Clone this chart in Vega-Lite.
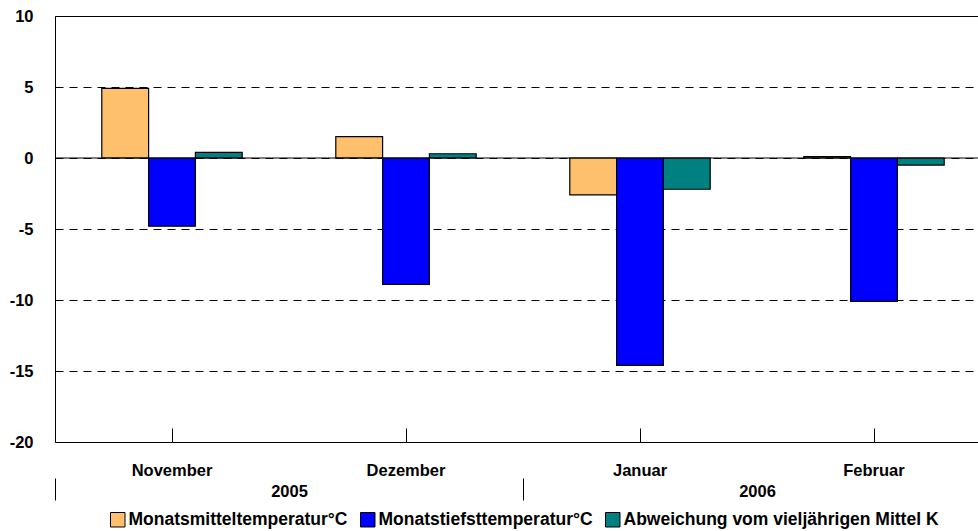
{
  "$schema": "https://vega.github.io/schema/vega-lite/v6.json",
  "width": 936,
  "height": 426,
  "autosize": "none",
  "padding": {"left": 55, "top": 16, "right": 0, "bottom": 89},
  "background": "white",
  "config": {
    "font": "Liberation Sans",
    "view": {"stroke": "black", "strokeWidth": 1},
    "axis": {"labelFont": "Liberation Sans", "labelFontWeight": "bold", "labelColor": "black", "labelFontSize": 16.5}
  },
  "layer": [
    {
      "data": {
        "values": [
          {"month": "November", "series": "Monatsmitteltemperatur°C", "value": 4.9},
          {"month": "November", "series": "Monatstiefsttemperatur°C", "value": -4.8},
          {"month": "November", "series": "Abweichung vom vieljährigen Mittel K", "value": 0.4},
          {"month": "Dezember", "series": "Monatsmitteltemperatur°C", "value": 1.5},
          {"month": "Dezember", "series": "Monatstiefsttemperatur°C", "value": -8.9},
          {"month": "Dezember", "series": "Abweichung vom vieljährigen Mittel K", "value": 0.3},
          {"month": "Januar", "series": "Monatsmitteltemperatur°C", "value": -2.6},
          {"month": "Januar", "series": "Monatstiefsttemperatur°C", "value": -14.6},
          {"month": "Januar", "series": "Abweichung vom vieljährigen Mittel K", "value": -2.2},
          {"month": "Februar", "series": "Monatsmitteltemperatur°C", "value": 0.1},
          {"month": "Februar", "series": "Monatstiefsttemperatur°C", "value": -10.1},
          {"month": "Februar", "series": "Abweichung vom vieljährigen Mittel K", "value": -0.5}
        ]
      },
      "mark": {"type": "bar", "stroke": "black", "strokeWidth": 1.2},
      "encoding": {
        "x": {
          "field": "month", "type": "nominal",
          "sort": ["November", "Dezember", "Januar", "Februar"],
          "scale": {"paddingInner": 0.4, "paddingOuter": 0.2},
          "axis": {"orient": "bottom", "title": null, "domain": false, "tickSize": -14, "tickColor": "black", "labelPadding": 34, "labelAngle": 0, "grid": false}
        },
        "xOffset": {
          "field": "series", "type": "nominal",
          "sort": ["Monatsmitteltemperatur°C", "Monatstiefsttemperatur°C", "Abweichung vom vieljährigen Mittel K"],
          "scale": {"paddingInner": 0, "paddingOuter": 0}
        },
        "y": {
          "field": "value", "type": "quantitative",
          "scale": {"domain": [-20, 10], "nice": false},
          "axis": {"title": null, "domain": false, "ticks": false, "grid": true, "gridColor": "black", "gridOpacity": 1, "gridDash": [8, 6], "values": [-20, -15, -10, -5, 0, 5, 10], "labelPadding": 22, "labelExpr": "'' + datum.value"}
        },
        "color": {
          "field": "series", "type": "nominal",
          "scale": {
            "domain": ["Monatsmitteltemperatur°C", "Monatstiefsttemperatur°C", "Abweichung vom vieljährigen Mittel K"],
            "range": ["#FFC06E", "#0000FF", "#008080"]
          },
          "legend": {
            "orient": "none", "legendX": 54, "legendY": 495, "direction": "horizontal", "title": null,
            "symbolType": "square", "symbolSize": 210, "symbolStrokeColor": "black", "symbolStrokeWidth": 1, "symbolOpacity": 1,
            "labelFontSize": 17.5, "labelFontWeight": "bold", "labelColor": "black", "labelFont": "Liberation Sans",
            "labelOffset": 2, "labelLimit": 0, "columnPadding": 10, "padding": 0
          }
        }
      }
    },
    {
      "data": {"values": [{"zero": 0}]},
      "mark": {"type": "rule", "color": "black", "strokeWidth": 1},
      "encoding": {"y": {"field": "zero", "type": "quantitative"}}
    },
    {
      "data": {"values": [{"year": "2005"}, {"year": "2006"}]},
      "mark": {"type": "point", "opacity": 0},
      "encoding": {
        "x": {
          "field": "year", "type": "nominal",
          "scale": {"paddingInner": 0, "paddingOuter": 0},
          "axis": {"orient": "bottom", "title": null, "domain": false, "offset": 36, "tickBand": "extent", "tickSize": 22, "tickColor": "black", "labelPadding": -17, "labelAngle": 0, "grid": false}
        }
      }
    }
  ],
  "resolve": {"scale": {"x": "independent"}, "axis": {"x": "independent"}}
}
